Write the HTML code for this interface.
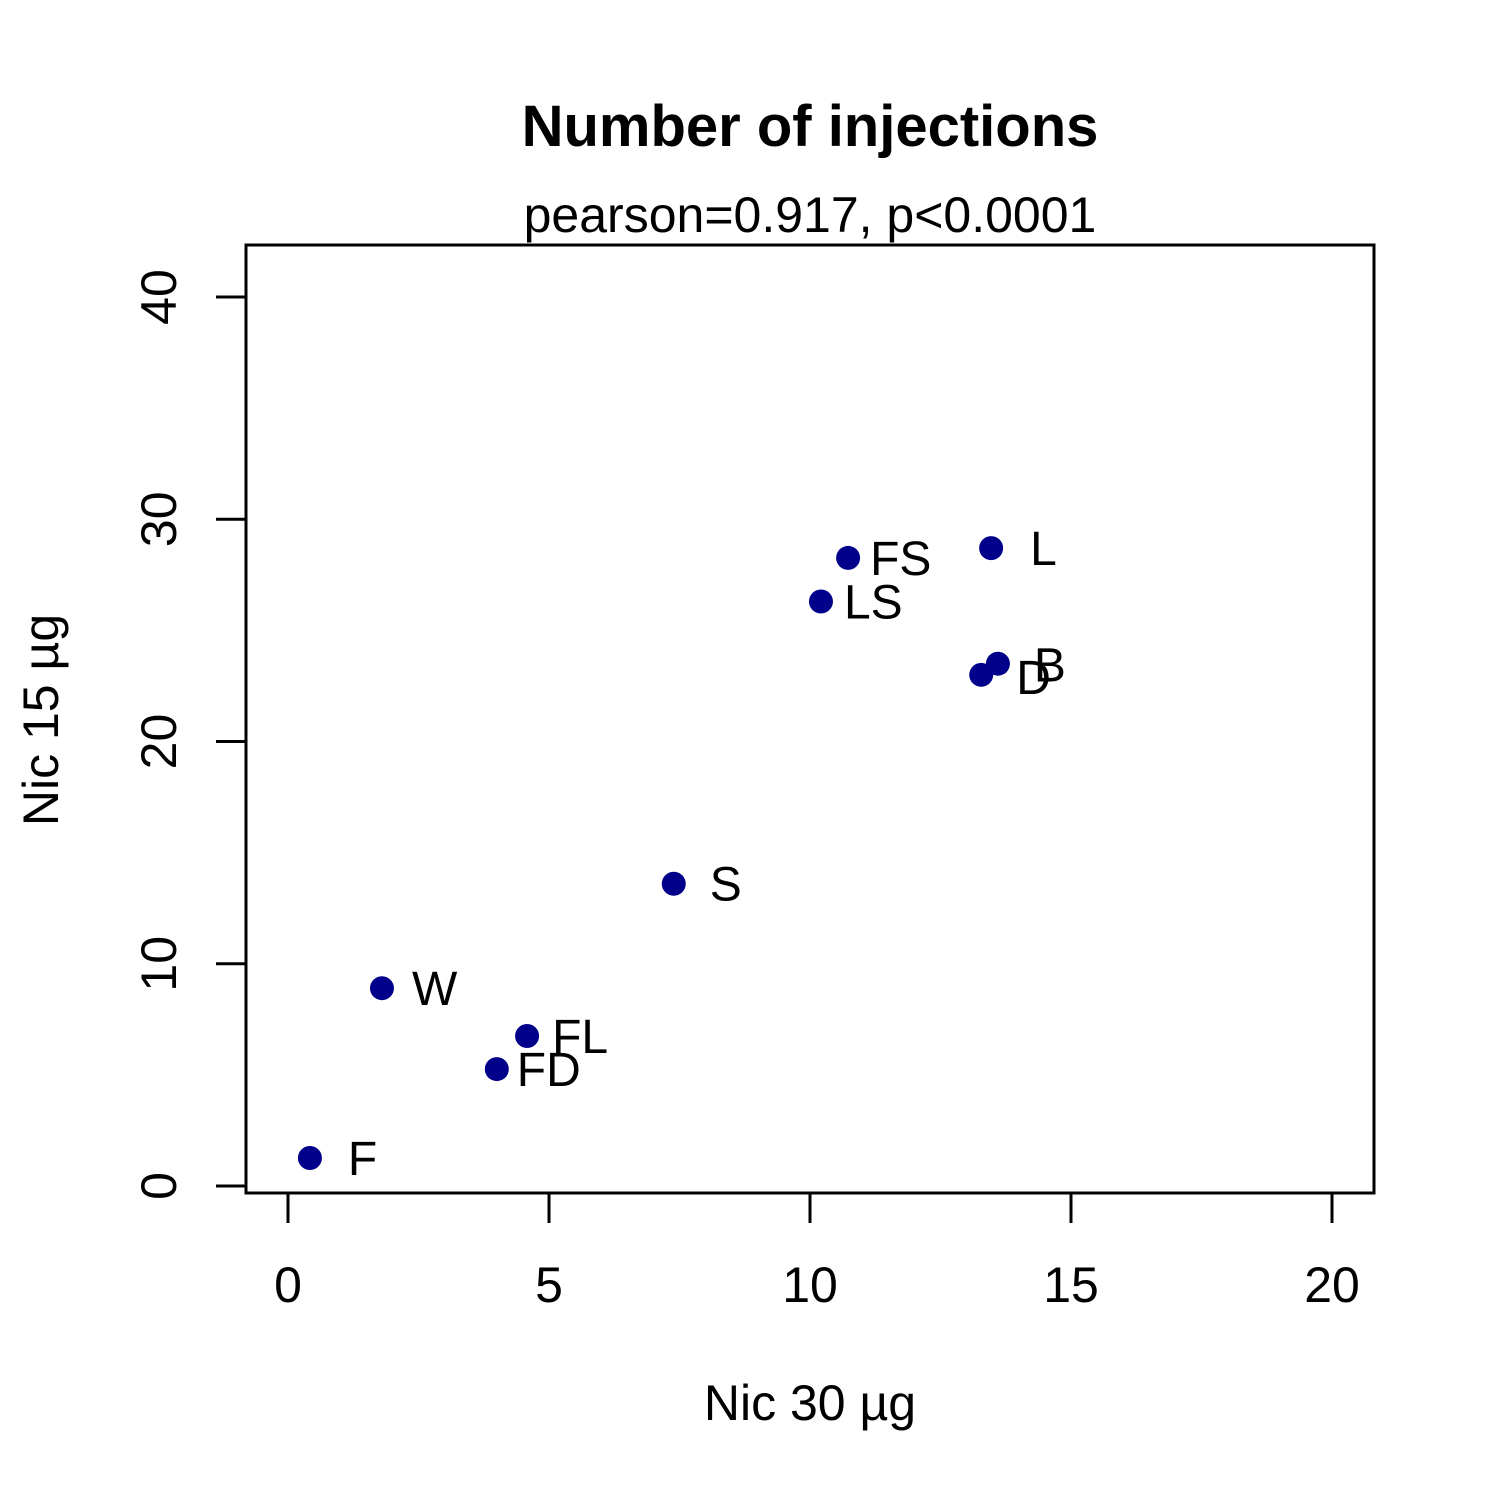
<!DOCTYPE html>
<html><head><meta charset="utf-8"><style>body{margin:0;background:#fff}svg{display:block}text{font-family:"Liberation Sans",Arial,sans-serif}</style></head>
<body>
<svg id="chart" width="1500" height="1500" viewBox="0 0 1500 1500">
<rect width="1500" height="1500" fill="#fff"/>
<text x="810" y="146" font-size="58" font-weight="bold" text-anchor="middle">Number of injections</text>
<text x="810" y="232" font-size="50" text-anchor="middle">pearson=0.917, p&lt;0.0001</text>
<rect x="246" y="245" width="1128" height="948" fill="none" stroke="#000" stroke-width="3"/>
<text x="810" y="1420" font-size="50" text-anchor="middle">Nic 30 µg</text>
<text transform="translate(58,720) rotate(-90)" font-size="50" text-anchor="middle">Nic 15 µg</text>
<g id="xaxis"></g>
<g id="yaxis"></g>
<g id="points"></g>
</svg>
<script>
const labels = ["F","W","FD","FL","S","LS","FS","L","D","B"];
const xVals = [0.42,1.8,4.0,4.58,7.39,10.21,10.73,13.47,13.28,13.6];
const yVals = [1.26,8.9,5.26,6.75,13.6,26.3,28.26,28.7,23.0,23.5];
const labelDx = [38,30,20,25,36,23,22,39,35,36];
const labelDy = [0,0,0,0,0,0,0,0,2,1];
const xTicks = [0,5,10,15,20];
const yTicks = [0,10,20,30,40];
const NS="http://www.w3.org/2000/svg";
const sx = v => 288 + v*52.2;
const sy = v => 1186 - v*22.225;
function mk(t,a,p){const e=document.createElementNS(NS,t);for(const k in a)e.setAttribute(k,a[k]);p.appendChild(e);return e;}
const xa=document.getElementById('xaxis'), ya=document.getElementById('yaxis'), pg=document.getElementById('points');
xTicks.forEach(t=>{
 const tk=mk('line',{x1:sx(t),x2:sx(t),y1:1193,y2:1223,stroke:'#000','stroke-width':3},xa);
 
 
 const tx=mk('text',{x:sx(t),y:1302,'font-size':50,'text-anchor':'middle'},xa);tx.textContent=t;
 
 
});
yTicks.forEach(t=>{
 const tk=mk('line',{x1:216,x2:246,y1:sy(t),y2:sy(t),stroke:'#000','stroke-width':3},ya);
 
 
 const tx=mk('text',{transform:`translate(176,${sy(t)}) rotate(-90)`,'font-size':50,'text-anchor':'middle'},ya);tx.textContent=t;
 
 
});
labels.forEach((n,i)=>{
 const c=mk('circle',{cx:sx(xVals[i]),cy:sy(yVals[i]),r:12,fill:'#00008B'},pg);
 
 
 const t=mk('text',{x:sx(xVals[i])+labelDx[i],y:sy(yVals[i])+labelDy[i]+17,'font-size':48},pg);t.textContent=n;
 
 
});
</script>
</body></html>
